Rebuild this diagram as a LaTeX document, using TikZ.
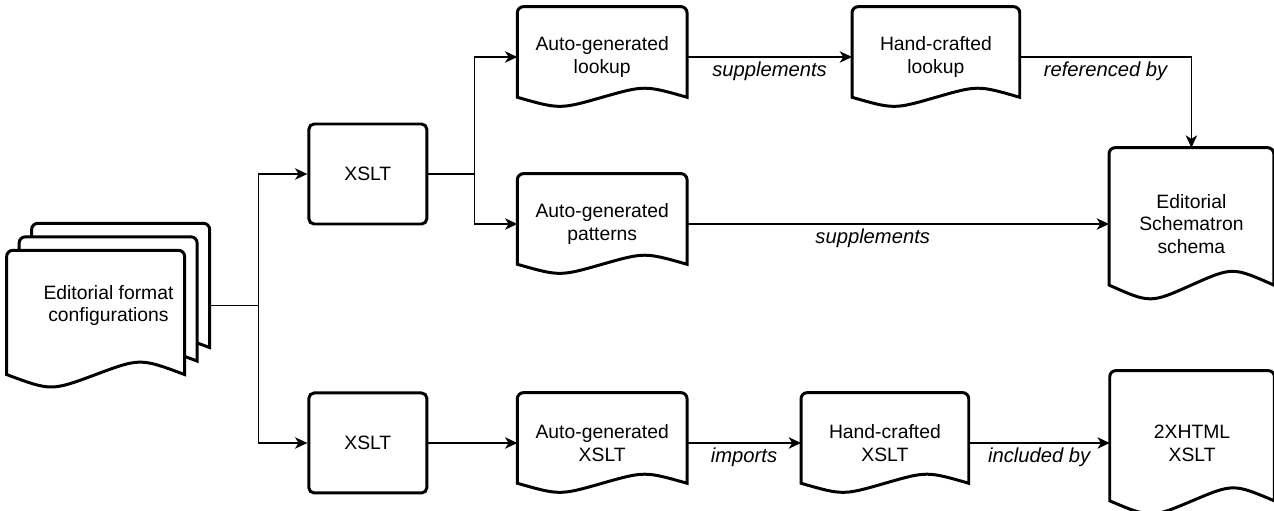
\documentclass[tikz,border=0pt]{standalone}
\usepackage{fontspec}
\setmainfont{Liberation Sans}
\usetikzlibrary{positioning,calc,arrows.meta,backgrounds}

\tikzset{
  procbox/.style={draw, line width=1.7pt, rounded corners=3pt, minimum width=2.36cm, minimum height=2cm, align=center},
  docnode/.style={minimum width=3.38cm, minimum height=2cm, inner sep=0pt, align=center},
  docline/.style={draw, line width=1.7pt, fill=white},
  link/.style={line width=0.85pt, -{Stealth[length=7pt,width=6.5pt,inset=2pt]}},
  lbl/.style={font=\fontsize{11.5}{14}\selectfont\itshape, below, inner sep=2.5pt}
}

% document outline: #1 south west, #2 north east
\newcommand{\docpath}[2]{%
  \path[docline] let \p1=(#1), \p2=(#2), \n1={\y2-\y1}, \n2={\x2-\x1} in
    (\x1,\y1+0.1*\n1) -- (\x1,\y2-3.5pt) arc[start angle=180, end angle=90, radius=3.5pt]
    -- (\x2-3.5pt,\y2) arc[start angle=90, end angle=0, radius=3.5pt] -- (\x2,\y1+0.1*\n1)
    .. controls (\x1+0.75*\n2,\y1+0.22*\n1) .. (\x1+0.5*\n2,\y1+0.1*\n1)
    .. controls (\x1+0.25*\n2,\y1-0.02*\n1) .. cycle;}

\begin{document}
\begin{tikzpicture}[font=\fontsize{11}{13}\selectfont]
  \useasboundingbox (0,0) rectangle (25.48,-10.22);

  \node[docnode, minimum width=4.06cm, minimum height=3.3cm] (cfg) at (2.17,-6.11) {Editorial format\\configurations};
  \node[procbox, right=1.94cm of cfg, yshift=2.63cm] (xslta) {XSLT};
  \node[procbox, below=3.32cm of xslta] (xsltb) {XSLT};

  \node[docnode, right=1.78cm of xslta, yshift=2.34cm] (lookupa) {Auto-generated\\lookup};
  \node[docnode, right=1.78cm of xslta, yshift=-1cm] (patterns) {Auto-generated\\patterns};
  \node[docnode, right=1.78cm of xsltb] (xsltgen) {Auto-generated\\XSLT};
  \node[docnode, minimum width=3.34cm, right=3.3cm of lookupa] (lookupb) {Hand-crafted\\lookup};
  \node[docnode, minimum width=3.34cm, right=2.28cm of xsltgen] (xslthand) {Hand-crafted\\XSLT};
  \node[docnode, minimum width=3.28cm, minimum height=3.04cm, right=8.44cm of patterns] (schema) {Editorial\\Schematron\\schema};
  \node[docnode, minimum width=3.28cm, minimum height=2.88cm, right=2.82cm of xslthand] (xhtml) {2XHTML\\XSLT};

  \begin{scope}[on background layer]
    \foreach \k in {2,1,0}
      {\docpath{$(cfg.south west)+(\k*0.25,\k*0.27)$}{$(cfg.south west)+(3.56+\k*0.25,2.76+\k*0.27)$}}
    \foreach \nd in {lookupa,patterns,xsltgen,lookupb,xslthand,schema,xhtml}
      {\docpath{\nd.south west}{\nd.north east}}
  \end{scope}

  \coordinate (fork) at ($(cfg.east)+(0.96,0)$);
  \coordinate (forkb) at ($(xslta.east)+(0.92,0)$);

  \draw[line width=0.85pt] (cfg.east) -- (fork);
  \draw[link] (fork) |- (xslta);
  \draw[link] (fork) |- (xsltb);
  \draw[line width=0.85pt] (xslta) -- (forkb);
  \draw[link] (forkb) |- (lookupa);
  \draw[link] (forkb) |- (patterns);

  \draw[link] (lookupa) -- node[lbl] {supplements} (lookupb);
  \draw[link] (lookupb) -| node[lbl, pos=0.25] {referenced by} (schema);
  \draw[link] (patterns) -- node[lbl, pos=0.44] {supplements} (schema);
  \draw[link] (xsltb) -- (xsltgen);
  \draw[link] (xsltgen) -- node[lbl] {imports} (xslthand);
  \draw[link] (xslthand) -- node[lbl] {included by} (xhtml);
\end{tikzpicture}
\end{document}
